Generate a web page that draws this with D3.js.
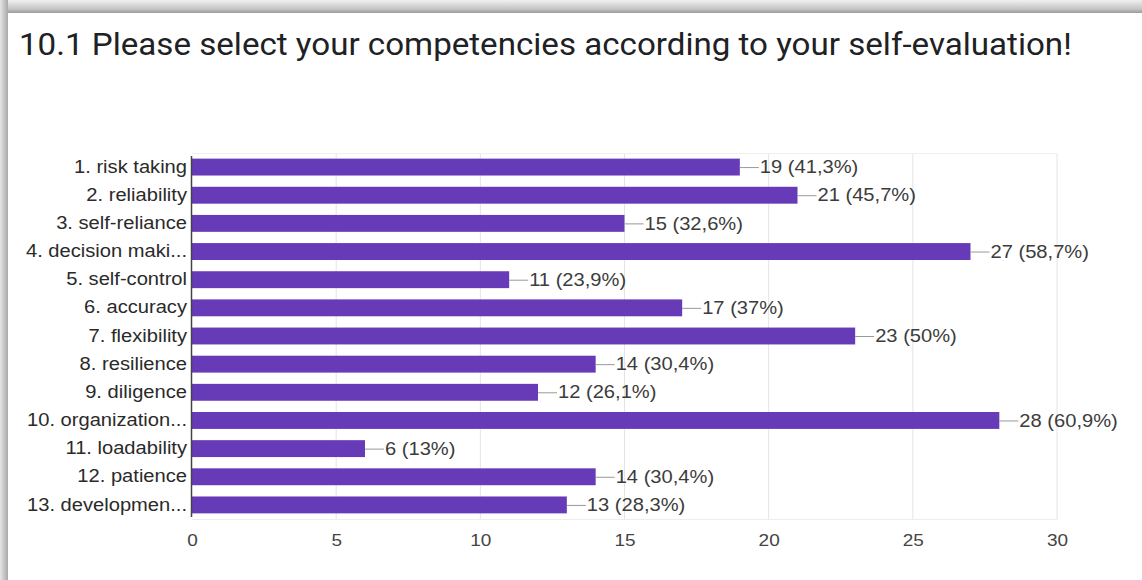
<!DOCTYPE html>
<html>
<head>
<meta charset="utf-8">
<script src="https://cdn.jsdelivr.net/npm/d3@7/dist/d3.min.js"></script>
<style>
  html, body { margin: 0; padding: 0; background: #fff; }
  svg { display: block; }
</style>
</head>
<body>
<svg id="chart" width="1142" height="580"></svg>
<script>
// Survey answers: competencies chosen in the self-evaluation (46 respondents)
const categories = [
  "1. risk taking", "2. reliability", "3. self-reliance", "4. decision maki...",
  "5. self-control", "6. accuracy", "7. flexibility", "8. resilience",
  "9. diligence", "10. organization...", "11. loadability", "12. patience",
  "13. developmen..."
];
const counts = [19, 21, 15, 27, 11, 17, 23, 14, 12, 28, 6, 14, 13];
const percents = ["41,3%", "45,7%", "32,6%", "58,7%", "23,9%", "37%", "50%",
                  "30,4%", "26,1%", "60,9%", "13%", "30,4%", "28,3%"];
const tickValues = [0, 5, 10, 15, 20, 25, 30];
const title = "10.1 Please select your competencies according to your self-evaluation!";

const svg = d3.select("#chart");
const W = 1142, H = 580;

// widen text horizontally by a factor, keeping its anchor
function widen(sel, factor) {
  sel.each(function () {
    const len = this.getComputedTextLength();
    d3.select(this).attr("textLength", len * factor).attr("lengthAdjust", "spacingAndGlyphs");
  });
}

// card with a soft grey shadow along the top and left edges
const defs = svg.append("defs");
const gTop = defs.append("linearGradient").attr("id", "shTop").attr("x1", 0).attr("y1", 0).attr("x2", 0).attr("y2", 1);
gTop.append("stop").attr("offset", "0%").attr("stop-color", "#f0f0f0");
gTop.append("stop").attr("offset", "70%").attr("stop-color", "#c4c4c4");
gTop.append("stop").attr("offset", "100%").attr("stop-color", "#9a9a9a");
const gLeft = defs.append("linearGradient").attr("id", "shLeft").attr("x1", 0).attr("y1", 0).attr("x2", 1).attr("y2", 0);
gLeft.append("stop").attr("offset", "0%").attr("stop-color", "#e6e6e6");
gLeft.append("stop").attr("offset", "100%").attr("stop-color", "#a8a8a8");

svg.append("rect").attr("x", 0).attr("y", 0).attr("width", W).attr("height", H).attr("fill", "#fff");
svg.append("rect").attr("x", 0).attr("y", 0).attr("width", W).attr("height", 13).attr("fill", "url(#shTop)");
svg.append("rect").attr("x", 0).attr("y", 0).attr("width", 8).attr("height", H).attr("fill", "url(#shLeft)");
svg.append("rect").attr("x", 8).attr("y", 13).attr("width", W - 8).attr("height", H - 13).attr("fill", "#fff");

svg.append("text")
  .attr("x", 19).attr("y", 55)
  .attr("font-family", "Roboto, sans-serif")
  .attr("font-size", 32)
  .attr("fill", "#202124")
  .text(title)
  .call(widen, 1.035);

// plot area
const plotLeft = 192, plotRight = 1057, plotTop = 153, plotBottom = 519;
const x = d3.scaleLinear().domain([0, 30]).range([plotLeft, plotRight]);
const y = d3.scaleBand().domain(categories).range([plotTop, plotBottom]).paddingInner(0.4).paddingOuter(0.2);

const font = "'Liberation Sans', Arial, sans-serif";
const stretch = 1.15;

// gridlines
svg.append("g").selectAll("line").data(tickValues.slice(1)).join("line")
  .attr("x1", d => x(d)).attr("x2", d => x(d))
  .attr("y1", plotTop).attr("y2", plotBottom)
  .attr("stroke", "#e4e4e4").attr("stroke-width", 1);
svg.append("line").attr("x1", plotLeft).attr("x2", plotRight + 1).attr("y1", plotTop + 0.5).attr("y2", plotTop + 0.5)
  .attr("stroke", "#f0f0f0");
svg.append("line").attr("x1", plotLeft).attr("x2", plotRight + 1).attr("y1", plotBottom + 0.5).attr("y2", plotBottom + 0.5)
  .attr("stroke", "#eeeeee");

// bars
svg.append("g").selectAll("rect").data(categories).join("rect")
  .attr("x", x(0))
  .attr("y", d => y(d))
  .attr("width", (d, i) => x(counts[i]) - x(0))
  .attr("height", y.bandwidth())
  .attr("fill", "#673ab7");

// leader lines and value labels
const lab = svg.append("g");
categories.forEach((c, i) => {
  const cy = y(c) + y.bandwidth() / 2;
  const xe = x(counts[i]);
  lab.append("line")
    .attr("x1", xe).attr("x2", xe + 19)
    .attr("y1", cy + 0.5).attr("y2", cy + 0.5)
    .attr("stroke", "#999").attr("stroke-width", 1);
  lab.append("text")
    .attr("x", xe + 20).attr("y", cy)
    .attr("dy", "0.35em")
    .attr("font-family", font).attr("font-size", 17.5)
    .attr("fill", "#3c3c3c")
    .text(`${counts[i]} (${percents[i]})`)
    .call(widen, stretch);
});

// category axis
const yAxis = svg.append("g")
  .attr("transform", `translate(${plotLeft},0)`)
  .call(d3.axisLeft(y).tickSize(0).tickPadding(5));
yAxis.select(".domain").remove();
yAxis.selectAll("text")
  .attr("font-family", font).attr("font-size", 17.5).attr("fill", "#2a2a2a")
  .call(widen, stretch);
svg.append("line")
  .attr("x1", plotLeft - 0.5).attr("x2", plotLeft - 0.5)
  .attr("y1", plotTop + 3).attr("y2", plotBottom - 2)
  .attr("stroke", "#444").attr("stroke-width", 1.5);

// value axis
const xAxis = svg.append("g")
  .attr("transform", `translate(0,${plotBottom})`)
  .call(d3.axisBottom(x).tickValues(tickValues).tickSize(0).tickPadding(15));
xAxis.select(".domain").remove();
xAxis.selectAll("text")
  .attr("font-family", font).attr("font-size", 16.5).attr("fill", "#444")
  .call(widen, stretch);
</script>
</body>
</html>
